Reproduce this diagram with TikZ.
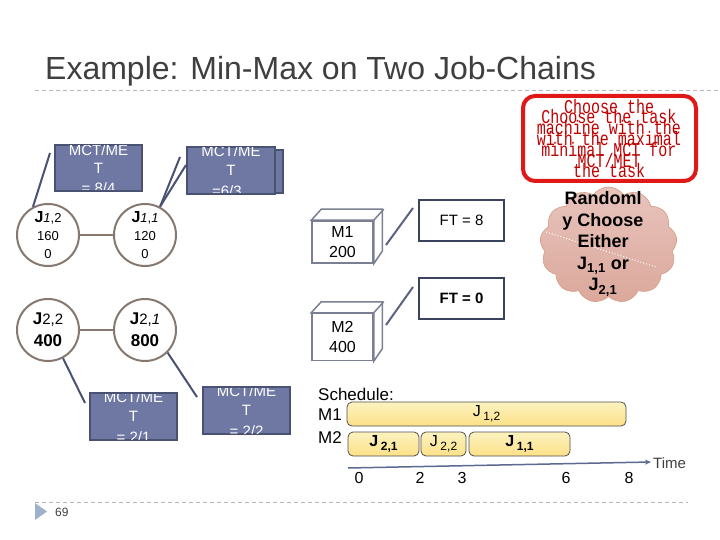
\documentclass[tikz,border=0pt]{standalone}
\usepackage{fontspec}
\setmainfont{Liberation Sans}
\newfontfamily\monofnt{Liberation Mono}
\usetikzlibrary{shapes.symbols,arrows.meta}
\definecolor{titlegray}{HTML}{3F3F3F}
\definecolor{rulegray}{HTML}{B4B8C0}
\definecolor{circbrown}{HTML}{857870}
\definecolor{slatefill}{HTML}{6E78A2}
\definecolor{slatedark}{HTML}{4A5274}
\definecolor{cubeline}{HTML}{7A8092}
\definecolor{redbox}{HTML}{E01818}
\definecolor{redtext}{HTML}{C00000}
\definecolor{cloudpink}{HTML}{DDAAA0}
\definecolor{barfill}{HTML}{FBEB96}
\definecolor{barline}{HTML}{505050}
\definecolor{axisblue}{HTML}{5C6A92}
\definecolor{tri}{HTML}{9FB2CC}
\newcommand{\tallred}[1]{\scalebox{1}[1.3]{#1}}
\tikzset{
  jc/.style={circle,draw=circbrown,line width=2pt,fill=white,minimum size=62pt,inner sep=0pt,align=center,font=\fontsize{13}{18}\selectfont},
  chainedge/.style={draw=circbrown,line width=2.5pt},
  mctbox/.style={draw=slatedark,line width=2pt,fill=slatefill},
  mcttext/.style={text=white,font=\fontsize{15}{15}\selectfont,inner sep=0pt},
  ptr/.style={draw=slatedark,line width=2pt},
  cube/.style={draw=cubeline,line width=1.5pt,fill=white},
  cubetxt/.style={font=\fontsize{16}{20}\selectfont,align=center,inner sep=0pt},
  ftbox/.style={draw=slatedark!80!black,line width=1.5pt,fill=white,minimum width=85pt,minimum height=41pt,font=\fontsize{15}{15}\selectfont},
  bar/.style={draw=barline,line width=0.8pt,rounded corners=5pt,top color=barfill!60!white,bottom color=barfill!90!orange,minimum height=24pt,inner sep=0pt,font=\fontsize{16}{16}\selectfont},
  lbl/.style={font=\fontsize{17}{17}\selectfont,inner sep=0pt,anchor=base west},
  tick/.style={font=\fontsize{16}{16}\selectfont,inner sep=0pt},
  redline/.style={text=redtext,font=\monofnt\fontsize{15}{15}\selectfont,inner sep=0pt},
}
\begin{document}
\begin{tikzpicture}[x=1pt,y=-1pt]
\useasboundingbox[fill=white] (0,0) rectangle (720,540);
% title
\node[anchor=base west,inner sep=0pt,text=titlegray,font=\fontsize{32}{32}\selectfont] (title) at (45,80) {Example: Min-Max on Two Job-Chains};
\draw[rulegray,dashed,line width=1pt,dash pattern=on 4pt off 3pt] (35,91) -- (720,91);
\draw[rulegray,dashed,line width=1pt,dash pattern=on 4pt off 3pt] (35,502) -- (688,502);
\fill[tri] (35,503) -- (47,511.5) -- (35,520) -- cycle;
\node[anchor=base west,inner sep=0pt,text=titlegray,font=\fontsize{12}{12}\selectfont] (pnum) at (55,516) {69};

% MCT/MET boxes
\fill[slatefill,draw=slatedark,line width=2pt] (195,150) rectangle (283,193);
\begin{scope}
\path[mctbox] (55,145) rectangle (142,191);
\clip (56,146) rectangle (141,190);
\node[mcttext] (m1a) at (98.5,150) {MCT/ME};
\node[mcttext] (m1b) at (98.5,168) {T};
\node[mcttext] (m1c) at (98.5,188) {= 8/4};
\end{scope}
\begin{scope}
\path[mctbox] (187,147) rectangle (275,194);
\clip (188,148) rectangle (274,193);
\node[mcttext] (m2a) at (231,151) {MCT/ME};
\node[mcttext] (m2b) at (231,170) {T};
\node[mcttext] (m2c) at (231,191) {=6/3..};
\end{scope}
\begin{scope}
\path[mctbox] (90,393) rectangle (177,440);
\clip (91,394) rectangle (176,439);
\node[mcttext] (m3a) at (133.5,397) {MCT/ME};
\node[mcttext] (m3b) at (133.5,416) {T};
\node[mcttext] (m3c) at (133.5,437) {= 2/1};
\end{scope}
\begin{scope}
\path[mctbox] (203,387) rectangle (290,434);
\clip (204,388) rectangle (289,433);
\node[mcttext] (m4a) at (246.5,391) {MCT/ME};
\node[mcttext] (m4b) at (246.5,410) {T};
\node[mcttext] (m4c) at (246.5,431) {= 2/2};
\end{scope}

% job chain circles
\node[jc] (j12) at (48,235) {{\fontsize{16}{16}\selectfont\textbf{J}}{\itshape 1},2\\160\\0};
\node[jc] (j11) at (145,235) {{\fontsize{16}{16}\selectfont\textbf{J}}{\itshape 1},{\itshape 1}\\120\\0};
\node[jc,font=\fontsize{17}{22}\selectfont] (j22) at (48,330) {\textbf{J}{\fontsize{15}{15}\selectfont 2,2}\\\textbf{400}};
\node[jc,font=\fontsize{17}{22}\selectfont] (j21) at (145,330) {\textbf{J}{\fontsize{15}{15}\selectfont 2,{\itshape 1}}\\\textbf{800}};
\draw[chainedge] (j12) -- (j11);
\draw[chainedge] (j22) -- (j21);

% callout pointers
\coordinate (c1) at (50,153);
\coordinate (c2a) at (180,157);
\coordinate (c2b) at (186,165);
\coordinate (c3) at (85,403);
\coordinate (c4) at (197,397);
\draw[ptr] (c1) -- (j12.118);
\draw[ptr] (c2a) -- (j11.62);
\draw[ptr] (c2b) -- (j11.62);
\draw[ptr] (c3) -- (j22.-62);
\draw[ptr] (c4) -- (j21.-45);

% machines
\node[cube,minimum width=61pt,minimum height=42pt,inner sep=0pt] (mach1) at (342.5,242) {};
\draw[cube] (mach1.north west) -- ++(10,-11) -- ++(61,0) -- ++(0,42) -- (mach1.south east) -- (mach1.north east) -- cycle;
\draw[cube] (mach1.north east) -- ++(10,-11);
\node[cubetxt] (mach1t) at (mach1.center) {M1\\200};
\node[cube,minimum width=61pt,minimum height=47pt,inner sep=0pt] (mach2) at (342.5,337) {};
\draw[cube] (mach2.north west) -- ++(10,-11) -- ++(61,0) -- ++(0,47) -- (mach2.south east) -- (mach2.north east) -- cycle;
\draw[cube] (mach2.north east) -- ++(10,-11);
\node[cubetxt] (mach2t) at (mach2.center) {M2\\400};

\node[ftbox] (ft1) at (461.5,220.5) {FT = 8};
\node[ftbox,font=\bfseries\fontsize{15}{15}\selectfont] (ft2) at (461.5,298.5) {FT = 0};
\coordinate (f1a) at (386,245);
\coordinate (f1b) at (413,208);
\coordinate (f2a) at (386,325);
\coordinate (f2b) at (413,287);
\draw[ptr,draw=slatedark!90] (f1a) -- (f1b);
\draw[ptr,draw=slatedark!90] (f2a) -- (f2b);

% red box
\node[draw=redbox,line width=4pt,rounded corners=12pt,minimum width=173pt,minimum height=85pt,fill=white] (rbox) at (609.5,138.5) {};
\node[redline] (ra1) at (609,107) {\tallred{Choose the}};
\node[redline] (rb1) at (609,117) {\tallred{Choose the task}};
\node[redline] (ra2) at (609,128) {\tallred{machine with the}};
\node[redline] (rb2) at (609,139) {\tallred{with the maximal}};
\node[redline] (ra3) at (609,150) {\tallred{minimal MCT for}};
\node[redline] (rb3) at (609,161) {\tallred{MCT/MET}};
\node[redline] (ra4) at (609,171) {\tallred{the task}};

% cloud
\node[cloud,cloud puffs=13,cloud puff arc=110,aspect=1.1,draw=cloudpink!70!brown,line width=0.6pt,
  top color=cloudpink!70!white,bottom color=cloudpink!95!brown,
  minimum width=137pt,minimum height=116pt,inner sep=0pt] (cloud) at (608.5,245) {};
\draw[white,dotted,line width=1pt] (546,232) -- (656,267);
\node[align=center,inner sep=0pt,font=\bfseries\fontsize{18}{21.5}\selectfont] (cloudt) at (603,244)
  {Randoml\\y Choose\\Either\\J\textsubscript{\fontsize{13}{13}\selectfont 1,1} or\\J\textsubscript{\fontsize{13}{13}\selectfont 2,1}};

% schedule
\node[lbl] (sch) at (318,400) {Schedule:};
\node[lbl] (lm1) at (318,420) {M1};
\node[lbl] (lm2) at (318,443) {M2};
\node[bar,minimum width=279pt] (b12) at (486.5,414) {J\,\raisebox{-4pt}{\fontsize{12}{12}\selectfont 1,2}};
\node[bar,minimum width=71pt,font=\bfseries\fontsize{16}{16}\selectfont] (b21) at (383.5,444) {J\,\raisebox{-4pt}{\fontsize{12}{12}\selectfont 2,1}};
\node[bar,minimum width=45pt] (b22) at (443.5,444) {J\,\raisebox{-4pt}{\fontsize{12}{12}\selectfont 2,2}};
\node[bar,minimum width=101pt,font=\bfseries\fontsize{16}{16}\selectfont] (b11) at (519.5,444) {J\,\raisebox{-4pt}{\fontsize{12}{12}\selectfont 1,1}};

\coordinate (ax0) at (348,468);
\coordinate (ax1) at (651,462);
\draw[axisblue,line width=1.5pt,-{Stealth[length=6pt,width=5pt]}] (ax0) -- (ax1);
\node[anchor=west,inner sep=0pt,font=\fontsize{15}{15}\selectfont,text=titlegray] (time) at (653,463) {Time};
\node[tick] (t0) at (359,478) {0};
\node[tick] (t2) at (420,478) {2};
\node[tick] (t3) at (462,478) {3};
\node[tick] (t6) at (566,478) {6};
\node[tick] (t8) at (629,478) {8};
\end{tikzpicture}
\end{document}
